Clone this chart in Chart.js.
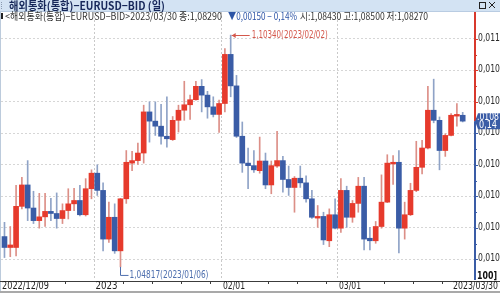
<!DOCTYPE html>
<html>
<head>
<meta charset="utf-8">
<script src="https://cdn.jsdelivr.net/npm/chart.js@4.4.0/dist/chart.umd.min.js"></script>
<style>
html, body { margin: 0; padding: 0; background: #fff; }
#wrap { width: 500px; height: 293px; }
</style>
</head>
<body>
<div id="wrap"><canvas id="chart"></canvas></div>
<script>
// EURUSD daily, 2022/12/09 - 2023/03/30
const dates = [
  '2022/12/09','2022/12/12','2022/12/13','2022/12/14','2022/12/15','2022/12/16','2022/12/19','2022/12/20','2022/12/21','2022/12/22',
  '2022/12/23','2022/12/26','2022/12/27','2022/12/28','2022/12/29','2022/12/30','2023/01/02','2023/01/03','2023/01/04','2023/01/05',
  '2023/01/06','2023/01/09','2023/01/10','2023/01/11','2023/01/12','2023/01/13','2023/01/16','2023/01/17','2023/01/18','2023/01/19',
  '2023/01/20','2023/01/23','2023/01/24','2023/01/25','2023/01/26','2023/01/27','2023/01/30','2023/01/31','2023/02/01','2023/02/02',
  '2023/02/03','2023/02/06','2023/02/07','2023/02/08','2023/02/09','2023/02/10','2023/02/13','2023/02/14','2023/02/15','2023/02/16',
  '2023/02/17','2023/02/20','2023/02/21','2023/02/22','2023/02/23','2023/02/24','2023/02/27','2023/02/28','2023/03/01','2023/03/02',
  '2023/03/03','2023/03/06','2023/03/07','2023/03/08','2023/03/09','2023/03/10','2023/03/13','2023/03/14','2023/03/15','2023/03/16',
  '2023/03/17','2023/03/20','2023/03/21','2023/03/22','2023/03/23','2023/03/24','2023/03/27','2023/03/28','2023/03/29','2023/03/30'
];
const open = [
  1.0554,1.0528,1.0528,1.0626,1.0677,1.0622,1.0592,1.0601,1.0614,1.0609,
  1.0597,1.0616,1.0632,1.0640,1.0606,1.0668,1.0705,1.0664,1.0548,1.0600,
  1.0520,1.0644,1.0729,1.0735,1.0753,1.0851,1.0829,1.0817,1.0793,1.0785,
  1.0831,1.0855,1.0868,1.0880,1.0912,1.0891,1.0863,1.0845,1.0871,1.0988,
  1.0913,1.0793,1.0729,1.0723,1.0711,1.0734,1.0677,1.0722,1.0735,1.0690,
  1.0671,1.0693,1.0682,1.0644,1.0598,1.0602,1.0544,1.0606,1.0574,1.0664,
  1.0600,1.0633,1.0674,1.0550,1.0544,1.0578,1.0636,1.0727,1.0731,1.0574,
  1.0606,1.0664,1.0719,1.0765,1.0855,1.0831,1.0759,1.0795,1.0841,1.0843
];
const high = [
  1.0588,1.0578,1.0676,1.0695,1.0735,1.0662,1.0657,1.0657,1.0645,1.0658,
  1.0632,1.0668,1.0669,1.0676,1.0692,1.0713,1.0725,1.0682,1.0636,1.0632,
  1.0645,1.0759,1.0757,1.0777,1.0867,1.0875,1.0875,1.0869,1.0887,1.0840,
  1.0867,1.0924,1.0891,1.0924,1.0928,1.0900,1.0887,1.0879,1.1002,1.1034,
  1.0938,1.0827,1.0765,1.0759,1.0791,1.0753,1.0734,1.0805,1.0745,1.0722,
  1.0697,1.0722,1.0699,1.0664,1.0628,1.0612,1.0620,1.0644,1.0692,1.0674,
  1.0640,1.0695,1.0695,1.0576,1.0590,1.0701,1.0749,1.0747,1.0759,1.0636,
  1.0681,1.0781,1.0783,1.0912,1.0929,1.0839,1.0799,1.0847,1.0871,1.0850
];
const low = [
  1.0504,1.0506,1.0508,1.0620,1.0592,1.0585,1.0574,1.0578,1.0592,1.0574,
  1.0585,1.0596,1.0616,1.0603,1.0603,1.0644,1.0652,1.0520,1.0540,1.0514,
  1.04817,1.0633,1.0711,1.0726,1.0729,1.0779,1.0795,1.0774,1.0767,1.0783,
  1.0803,1.0831,1.0833,1.0879,1.0851,1.0836,1.0839,1.0802,1.0851,1.0887,
  1.0790,1.0707,1.0668,1.0707,1.0705,1.0668,1.0656,1.0719,1.0660,1.0652,
  1.0612,1.0671,1.0636,1.0597,1.0576,1.0535,1.0530,1.0572,1.0564,1.0576,
  1.0588,1.0612,1.0522,1.0522,1.0538,1.0574,1.0635,1.0678,1.0515,1.0548,
  1.0604,1.0661,1.0703,1.0763,1.0825,1.0713,1.0745,1.0794,1.0817,1.0827
];
const close = [
  1.0528,1.0534,1.0626,1.0677,1.0622,1.0592,1.0601,1.0614,1.0609,1.0597,
  1.0616,1.0632,1.0640,1.0606,1.0668,1.0705,1.0664,1.0548,1.0600,1.0520,
  1.0644,1.0731,1.0735,1.0753,1.0851,1.0829,1.0817,1.0793,1.0787,1.0831,
  1.0855,1.0868,1.0880,1.0912,1.0891,1.0863,1.0845,1.0871,1.0988,1.0913,
  1.0793,1.0729,1.0723,1.0713,1.0734,1.0677,1.0723,1.0735,1.0690,1.0671,
  1.0693,1.0682,1.0644,1.0600,1.0602,1.0546,1.0606,1.0574,1.0664,1.0600,
  1.0633,1.0674,1.0548,1.0544,1.0578,1.0636,1.0729,1.0731,1.0574,1.0606,
  1.0664,1.0719,1.0765,1.0855,1.0831,1.0759,1.0795,1.0843,1.0845,1.0829
];

const yTicks = [1.0500, 1.0575, 1.0650, 1.0725, 1.0800, 1.0875, 1.0950, 1.1025];
const yTickLabels = ['0,010', '0,010', '0,010', '0,010', '0,010', '0,010', '0,010', '0,011'];
const monthStart = [16, 38, 58];              // 2023, 02/01, 03/01
const xLabelIdx = [0, 16, 38, 58, 79];
const xLabelText = ['2022/12/09', '2023', '02/01', '03/01', '2023/03/30'];
const weekStart = [11, 21, 26, 31, 36, 46, 51, 56, 66, 71, 76];

const UP = '#e63a2c', DOWN = '#3a5ca6';
const UP_WICK = '#dc8f87', DOWN_WICK = '#8fa3c7';
const NARROW = '"Liberation Sans Narrow", "DejaVu Sans Condensed", "Liberation Sans", sans-serif';
const KR = '"Noto Sans CJK KR", "Noto Sans", sans-serif';

const isUp = close.map((c, i) => c >= open[i]);
const bodies = dates.map((d, i) => ({ x: i, y: [open[i], close[i]] }));
const wicks = dates.map((d, i) => ({ x: i, y: [low[i], high[i]] }));

// text squeezed into a given width, like the narrow HTS font
function squeeze(ctx, text, x, y, w, align) {
  const width = Math.min(ctx.measureText(text).width, w);
  ctx.textAlign = 'left';
  ctx.fillText(text, align === 'right' ? x - width : x, y, w);
}

const decor = {
  id: 'decor',
  beforeDraw(c) {
    const ctx = c.ctx;
    ctx.save();
    ctx.fillStyle = '#fff';
    ctx.fillRect(0, 0, c.width, c.height);
    ctx.restore();
  },
  afterDraw(c) {
    const ctx = c.ctx, xs = c.scales.x, ys = c.scales.y, a = c.chartArea;
    const W = c.width;
    ctx.save();

    // title bar
    ctx.fillStyle = '#d3e3f3';
    ctx.fillRect(0, 0, W, 11);
    ctx.fillStyle = '#b9cce2';
    ctx.fillRect(0, 11, W, 1);
    ctx.fillStyle = '#8a9ab0';
    for (let yy = 2; yy < 10; yy += 2) ctx.fillRect(1, yy, 1, 1);
    ctx.fillStyle = '#17285a';
    ctx.font = 'bold 11px ' + KR;
    ctx.textBaseline = 'alphabetic';
    squeeze(ctx, '해외통화(통합)−EURUSD−BID (일)', 9, 10, 156);
    ctx.strokeStyle = '#222';
    ctx.lineWidth = 1;
    ctx.strokeRect(479.5, 2.5, 6, 6);
    ctx.beginPath();
    ctx.moveTo(489, 2); ctx.lineTo(495, 8);
    ctx.moveTo(495, 2); ctx.lineTo(489, 8);
    ctx.stroke();

    // left frame strip
    ctx.fillStyle = '#bccbdc';
    ctx.fillRect(0, 12, 1, 279);

    // info line
    ctx.fillStyle = '#222';
    ctx.fillRect(1, 13, 2, 6);
    ctx.font = '10px ' + KR;
    ctx.fillStyle = '#333';
    squeeze(ctx, '<해외통화(통합)−EURUSD−BID>2023/03/30 종:1,08290', 5, 19.5, 217);
    ctx.fillStyle = '#2c54a6';
    squeeze(ctx, '▼0,00150 − 0,14%', 228, 19.5, 69);
    ctx.fillStyle = '#333';
    squeeze(ctx, '시:1,08430 고:1,08500 저:1,08270', 300, 19.5, 128);

    // right price axis, red above the last price, blue below
    const last = close[close.length - 1];
    const ty = ys.getPixelForValue(last);
    const ax = a.right + 1;
    ctx.fillStyle = '#d8392c';
    ctx.fillRect(ax - 1, 12, 2, ty - 12);
    ctx.fillStyle = '#3a5ca6';
    ctx.fillRect(ax - 1, ty, 2, a.bottom - ty);
    ctx.font = '11px ' + NARROW;
    ctx.textBaseline = 'middle';
    for (let i = 0; i < yTicks.length; i++) {
      const py = Math.round(ys.getPixelForValue(yTicks[i]));
      ctx.fillStyle = py < ty ? '#d8392c' : '#3a5ca6';
      ctx.fillRect(ax + 1, py, 2, 1);
      if (i < yTicks.length - 1) {
        const my = Math.round(ys.getPixelForValue((yTicks[i] + yTicks[i + 1]) / 2));
        ctx.fillStyle = my < ty ? '#d8392c' : '#3a5ca6';
        ctx.fillRect(ax + 1, my, 1, 1);
      }
      ctx.fillStyle = '#2a2a2a';
      squeeze(ctx, yTickLabels[i], ax + 3, py - 1, 22);
    }

    // last price tag
    ctx.fillStyle = '#3a5ca6';
    ctx.beginPath();
    ctx.moveTo(ax, ty);
    ctx.lineTo(ax + 3, ty - 8);
    ctx.lineTo(W, ty - 8);
    ctx.lineTo(W, ty + 8);
    ctx.lineTo(ax + 3, ty + 8);
    ctx.closePath();
    ctx.fill();
    ctx.fillStyle = '#fff';
    ctx.font = '10px ' + NARROW;
    squeeze(ctx, '.0108', ax + 2, ty - 3.5, 22);
    squeeze(ctx, '0,14', ax + 4, ty + 4, 18);

    // high / low notes
    const hx = xs.getPixelForValue(39), hy = Math.round(ys.getPixelForValue(1.1034)) + 0.5;
    ctx.strokeStyle = '#d4584c';
    ctx.fillStyle = '#d4584c';
    ctx.lineWidth = 1;
    ctx.beginPath();
    ctx.moveTo(hx + 1, hy);
    ctx.lineTo(hx + 19, hy);
    ctx.stroke();
    ctx.beginPath();
    ctx.moveTo(hx + 1, hy);
    ctx.lineTo(hx + 5, hy - 2.5);
    ctx.lineTo(hx + 5, hy + 2.5);
    ctx.closePath();
    ctx.fill();
    ctx.font = '10px ' + NARROW;
    squeeze(ctx, '1,10340(2023/02/02)', hx + 21, hy, 76);

    const lx = Math.round(xs.getPixelForValue(20)) + 0.5, ly = ys.getPixelForValue(1.04817);
    ctx.strokeStyle = '#4e6fae';
    ctx.fillStyle = '#4e6fae';
    ctx.beginPath();
    ctx.moveTo(lx, ly);
    ctx.lineTo(lx, ly + 8.5);
    ctx.lineTo(lx + 8, ly + 8.5);
    ctx.stroke();
    squeeze(ctx, '1,04817(2023/01/06)', lx + 9, ly + 8, 79);

    // x axis line, week ticks, date labels
    const by = a.bottom + 1;
    ctx.fillStyle = '#3c3c3c';
    ctx.fillRect(0, by, W, 1);
    weekStart.forEach(i => {
      const px = Math.round(xs.getPixelForValue(i - 0.5));
      ctx.fillRect(px, by + 1, 1, 2);
    });
    ctx.fillStyle = '#1e1e1e';
    ctx.font = '11px ' + NARROW;
    ctx.textBaseline = 'alphabetic';
    xLabelIdx.forEach((idx, k) => {
      const t = xLabelText[k];
      if (k === 0) squeeze(ctx, t, 2, 289, 47);
      else if (k === xLabelIdx.length - 1) squeeze(ctx, t, 498, 289, 45, 'right');
      else squeeze(ctx, t, xs.getPixelForValue(idx - 0.5) + 1, 289, 22);
    });

    // bottom frame
    ctx.fillStyle = '#a9a9a9';
    ctx.fillRect(0, 291, W, 2);

    // scale factor marker
    ctx.fillStyle = '#111';
    ctx.font = 'bold 10px ' + NARROW;
    squeeze(ctx, '100]', 477, 278.5, 20);

    ctx.restore();
  }
};

new Chart(document.getElementById('chart'), {
  type: 'bar',
  data: {
    datasets: [
      {
        label: 'body',
        data: bodies,
        backgroundColor: isUp.map(u => u ? UP : DOWN),
        barThickness: 5,
        minBarLength: 1,
        grouped: false,
        borderWidth: 0
      },
      {
        label: 'wick',
        data: wicks,
        backgroundColor: isUp.map(u => u ? UP_WICK : DOWN_WICK),
        barThickness: 1,
        grouped: false,
        borderWidth: 0
      }
    ]
  },
  options: {
    responsive: true,
    maintainAspectRatio: false,
    animation: false,
    devicePixelRatio: 1,
    layout: { padding: { left: 1, top: 12, right: 0, bottom: 0 } },
    plugins: { legend: { display: false }, tooltip: { enabled: false } },
    scales: {
      x: {
        type: 'linear',
        offset: false,
        min: -0.6,
        max: 80.95,
        afterBuildTicks: s => { s.ticks = monthStart.map(i => ({ value: i - 0.5 })); },
        afterFit: s => { s.height = 13; },
        ticks: { display: false },
        grid: { color: '#c9c9c9', drawTicks: false, offset: false },
        border: { display: false, dash: [2, 2] }
      },
      y: {
        position: 'right',
        min: 1.045055,
        max: 1.10890,
        afterBuildTicks: s => { s.ticks = yTicks.map(v => ({ value: v })); },
        afterFit: s => { s.width = 26; },
        ticks: { display: false },
        grid: { color: '#d6d6d6', drawTicks: false },
        border: { display: false, dash: [2, 2] }
      }
    }
  },
  plugins: [decor]
});
</script>
</body>
</html>
